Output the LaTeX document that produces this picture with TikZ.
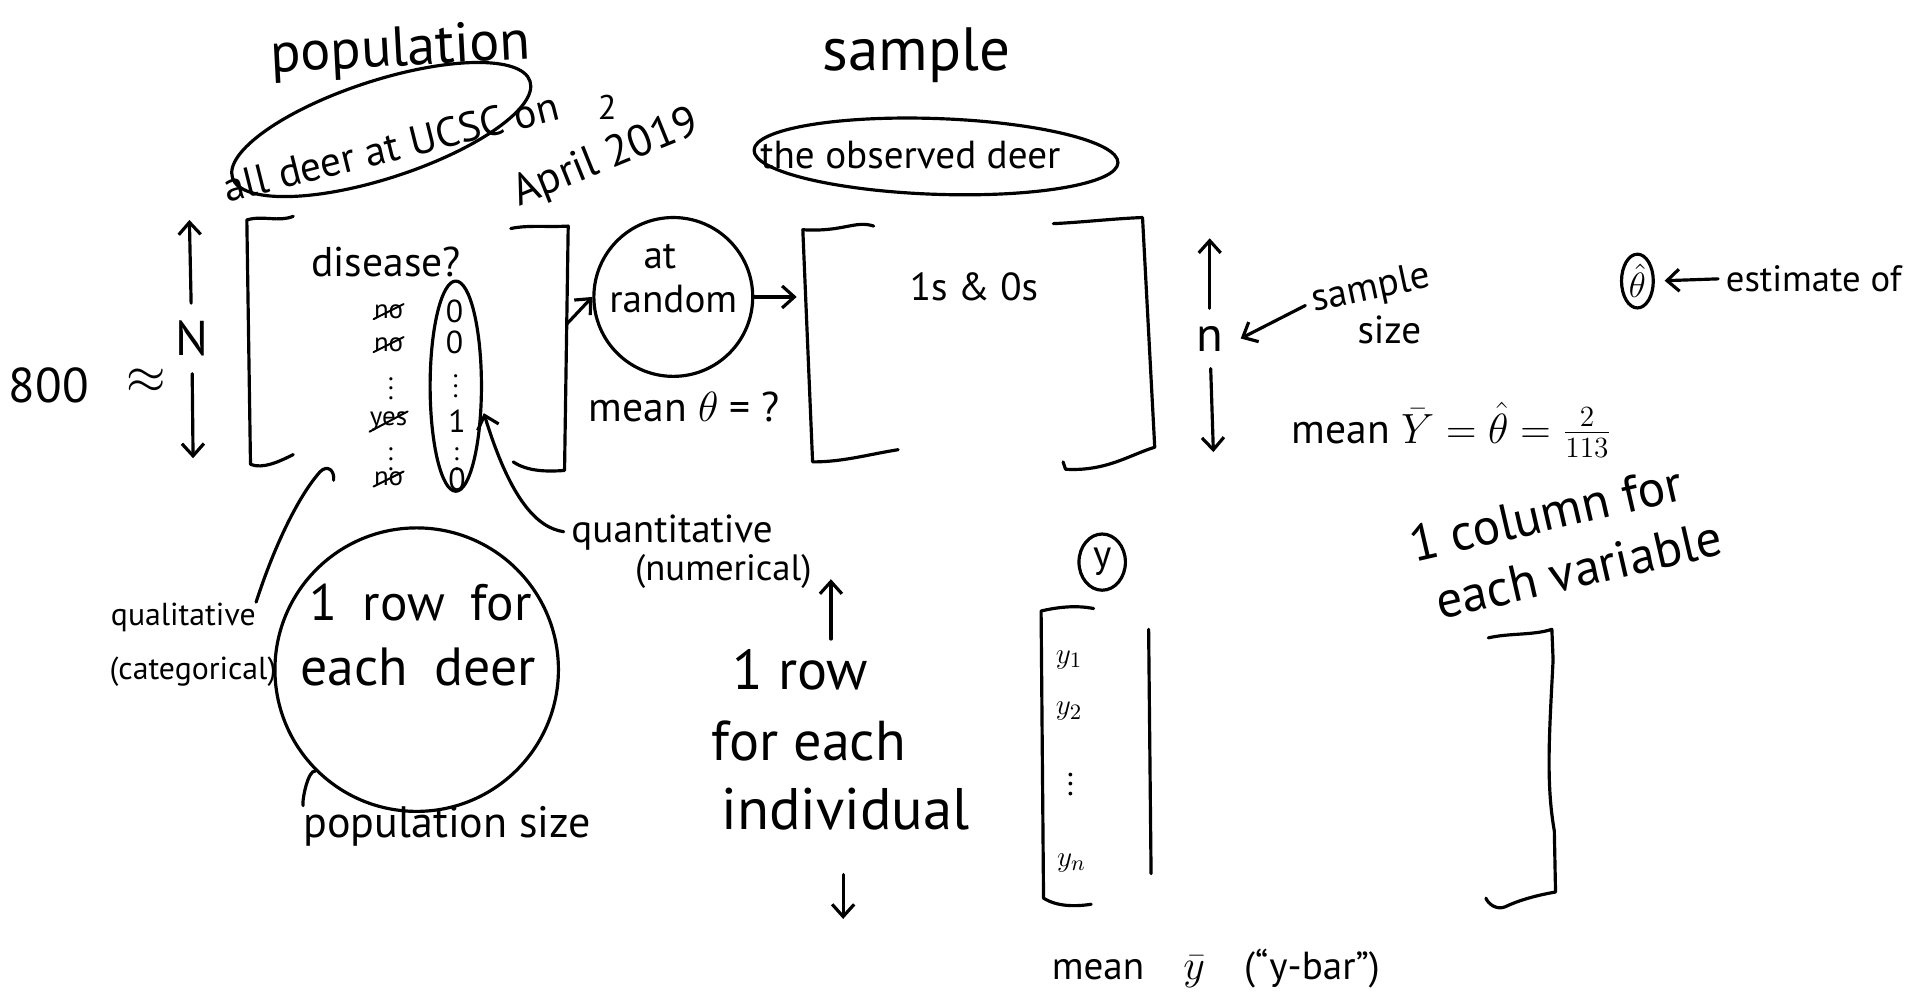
\documentclass[tikz,border=0pt]{standalone}
\usepackage{fontspec}
\setmainfont{PT Sans}
\usetikzlibrary{arrows.meta,shapes.geometric}
\begin{document}
\begin{tikzpicture}[x=0.5pt,y=-0.5pt,
  ink/.style={line width=1.3pt, line cap=round, line join=round},
  strike/.style={line width=0.8pt, line cap=round},
  arr/.style={ink,-{Straight Barb[length=5pt,width=9pt]}},
  txt/.style={inner sep=0pt, font=\fontsize{#1}{#1}\selectfont},
  txt/.default=16]
\useasboundingbox (0,0) rectangle (1568,821);

% ---- population header
\node[txt=23, rotate=3] (pop) at (328,42) {population};
\draw[ink, rotate around={18:(312,106)}] (312,106) ellipse [x radius=128, y radius=40];
\node[txt=17, rotate=14] (all) at (320,120) {all deer at UCSC on};
\node[txt=14] (two) at (497,88) {2};
\node[txt=18, rotate=22] (apr) at (496,130) {April 2019};

% ---- sample header
\node[txt=25] (samp) at (750,45) {sample};
\draw[ink, rotate around={-2:(766,128)}] (766,128) ellipse [x radius=149, y radius=31];
\node[txt=16] (obs) at (745,127) {the observed deer};

% ---- N
\node[txt=20] (eight) at (40,315) {800};
\node[txt=20] (approx) at (120,312) {$\approx$};
\node[txt=20, inner sep=7pt] (NN) at (157,277) {N};
\coordinate (Ntop) at (155,180);
\coordinate (Nbot) at (158,375);
\draw[arr] (NN) -- (Ntop);
\draw[arr] (NN) -- (Nbot);

% ---- population matrix
\draw[ink] (240,177) .. controls (228,182) and (215,176) .. (202,180) -- (205,380) .. controls (215,384) and (228,378) .. (240,372);
\draw[ink] (418,187) .. controls (432,184) and (448,186) .. (465,185) -- (462,385) .. controls (448,386) and (432,386) .. (420,378);
\coordinate (prR) at (464,265);
\node[txt=17] (dis) at (316,214) {disease?};
\node[txt=11] (r1) at (318,255) {no};
\node[txt=11] (r2) at (318,282) {no};
\node[txt=11] (r3) at (320,312) {\vdots};
\node[txt=11] (r4) at (318,345) {yes};
\node[txt=11] (r5) at (320,370) {\vdots};
\node[txt=11] (r6) at (318,392) {no};
\foreach \r in {r1,r2,r4,r6} \draw[strike] (\r.south west) -- (\r.north east);
\node[txt=13] (c1) at (372,255) {0};
\node[txt=13] (c2) at (372,280) {0};
\node[txt=11] (c3) at (373,310) {\vdots};
\node[txt=13] (c4) at (374,345) {1};
\node[txt=11] (c5) at (374,370) {\vdots};
\node[txt=13] (c6) at (374,392) {0};
\node[draw, ink, ellipse, minimum width=21pt, minimum height=86pt, inner sep=0] (zcol) at (373,316) {};

% ---- at random
\node[draw, ink, circle, minimum size=65pt, inner sep=0] (rand) at (551,243) {};
\node[txt=16] (at) at (540,210) {at};
\node[txt=16] (random) at (551,245) {random};
\draw[arr] (prR) -- (rand.west);
\node[txt=17] (meant) at (560,333) {mean $\theta$ = ?};

% ---- sample matrix
\draw[ink] (715,185) .. controls (700,180) and (690,190) .. (657,188) -- (665,378) .. controls (690,378) and (710,372) .. (735,368);
\draw[ink] (862,183) .. controls (885,182) and (910,179) .. (935,178) -- (945,366) .. controls (925,372) and (905,386) .. (872,384) -- (870,378);
\coordinate (sL) at (652,243);
\draw[arr] (rand.east) -- (sL);
\node[txt=16] (ones) at (797,235) {1s \& 0s};

% ---- n
\node[txt=20, inner sep=7pt] (nn) at (990,277) {n};
\coordinate (ntop) at (990,195);
\coordinate (nbot) at (993,370);
\draw[arr] (nn) -- (ntop);
\draw[arr] (nn) -- (nbot);
\node[txt=16, rotate=12] (ss1) at (1122,237) {sample};
\node[txt=16] (ss2) at (1137,270) {size};
\draw[arr, shorten <=3pt] (ss1.west) -- (nn.east);

% ---- estimate
\node[draw, ink, ellipse, minimum width=13pt, minimum height=22pt, inner sep=0, font=\fontsize{15}{15}\selectfont] (thh) at (1340,230) {$\hat\theta$};
\node[txt=15, anchor=west] (est) at (1412,228) {estimate of};
\draw[arr, shorten <=3pt, shorten >=4pt] (est.west) -- (thh.east);
\node[txt=17] (meanY) at (1188,352) {mean $\bar{Y} = \hat{\theta} = \frac{2}{113}$};
\node[txt=21, rotate=13] (col1) at (1265,420) {1 column for};
\node[txt=21, rotate=13] (col2) at (1292,466) {each variable};

% ---- big right bracket
\draw[ink] (1218,522) .. controls (1235,518) and (1255,520) .. (1270,515) -- (1271,540) .. controls (1268,600) and (1265,640) .. (1272,680) -- (1273,730) .. controls (1255,733) and (1240,738) .. (1232,742) .. controls (1225,745) and (1218,740) .. (1216,735);

% ---- y column
\node[draw, ink, ellipse, minimum width=19pt, minimum height=23pt, inner sep=0, font=\fontsize{16}{16}\selectfont] (ycirc) at (902,460) {y};
\draw[ink] (895,498) .. controls (880,495) and (865,497) .. (852,500) -- (854,735) .. controls (865,742) and (880,742) .. (893,740);
\draw[ink] (940,515) -- (942,715);
\node[txt=13] (y1) at (875,540) {$y_1$};
\node[txt=13] (y2) at (875,582) {$y_2$};
\node[txt=13] (ydots) at (876,636) {$\vdots$};
\node[txt=13] (yn) at (877,706) {$y_n$};
\node[txt=16] (meany) at (995,793) {mean\quad $\bar{y}$\quad (``y-bar'')};

% ---- quantitative / qualitative
\node[txt=16] (quant) at (550,436) {quantitative};
\node[txt=15] (numer) at (592,468) {(numerical)};
\draw[arr, shorten <=3pt, shorten >=2pt] (quant.west) .. controls (440,432) and (418,410) .. (zcol.-40);
\node[txt=13] (qual) at (150,505) {qualitative};
\node[txt=13] (categ) at (158,550) {(categorical)};
\draw[ink] (qual.north east) .. controls (225,445) and (245,405) .. (262,386) .. controls (268,380) and (274,385) .. (273,393);

% ---- big circle
\node[draw, ink, circle, minimum size=116pt, inner sep=0] (rowc) at (341,548) {};
\node[txt=21] (row1) at (344,493) {1\enspace row\enspace for};
\node[txt=22] (row2) at (342,546) {each\enspace deer};
\node[txt=18] (popsize) at (366,676) {population size};
\draw[ink] (rowc.225) .. controls (252,630) and (247,655) .. (popsize.north west);

% ---- 1 row for each individual
\node[txt=23] (ir1) at (655,548) {1 row};
\node[txt=23] (ir2) at (662,606) {for each};
\node[txt=24] (ir3) at (692,662) {individual};
\coordinate (irup) at (680,474);
\coordinate (irdn) at (690,752);
\draw[arr, shorten <=4pt] (ir1.north -| irup) -- (irup);
\draw[arr, shorten <=18pt] (ir3.south -| irdn) -- (irdn);
\end{tikzpicture}
\end{document}
